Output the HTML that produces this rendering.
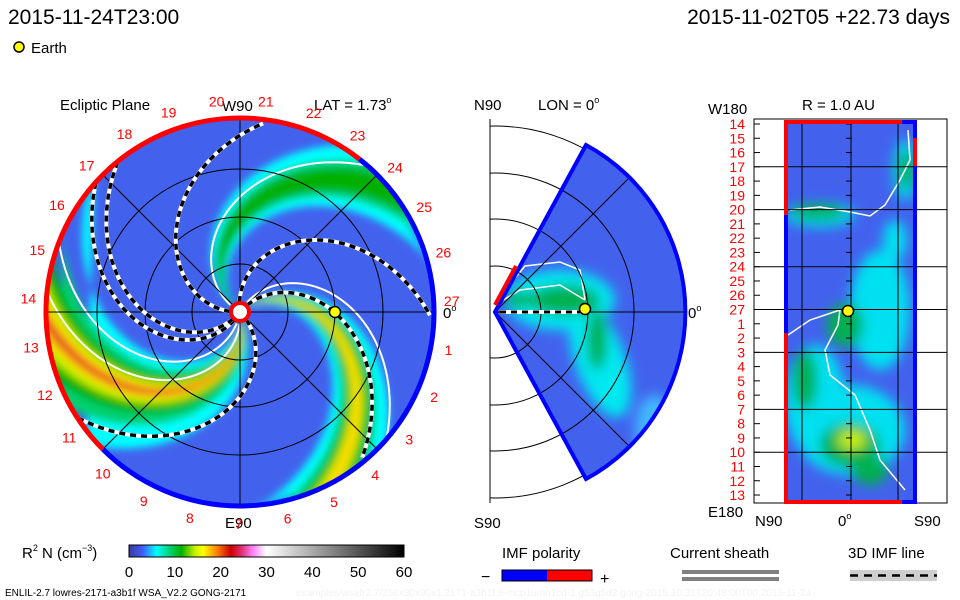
<!DOCTYPE html>
<html><head><meta charset="utf-8"><style>
html,body{margin:0;padding:0;background:#fff;width:960px;height:600px;overflow:hidden}
svg{display:block;font-family:"Liberation Sans",sans-serif}
</style></head><body>
<svg id="s" width="960" height="600" viewBox="0 0 960 600">
<defs>
<filter id="bl" x="-20%" y="-20%" width="140%" height="140%"><feGaussianBlur stdDeviation="4"/></filter>
<filter id="bl2" x="-30%" y="-30%" width="160%" height="160%"><feGaussianBlur stdDeviation="6"/></filter>
<clipPath id="cc"><circle cx="240" cy="312" r="193"/></clipPath>
<clipPath id="wc"><path d="M495,312 L586,145 A190,190 0 0 1 586,479 Z"/></clipPath>
<clipPath id="rc"><rect x="786" y="122" width="129" height="380"/></clipPath>
<clipPath id="mf"><rect x="490" y="119" width="200" height="384"/></clipPath>
<linearGradient id="cb" x1="0" x2="1" y1="0" y2="0">
<stop offset="0" stop-color="#3a3a98"/><stop offset="0.05" stop-color="#3f5cff"/><stop offset="0.1" stop-color="#00ffff"/>
<stop offset="0.15" stop-color="#00d070"/><stop offset="0.19" stop-color="#00b000"/><stop offset="0.24" stop-color="#c8f000"/>
<stop offset="0.27" stop-color="#ffff00"/><stop offset="0.32" stop-color="#ff8000"/><stop offset="0.37" stop-color="#cc0000"/>
<stop offset="0.41" stop-color="#e03070"/><stop offset="0.45" stop-color="#ff80ff"/><stop offset="0.5" stop-color="#ffffff"/>
<stop offset="1" stop-color="#000000"/></linearGradient>
</defs>

<text x="8" y="24" font-size="21">2015-11-24T23:00</text>
<text x="950" y="24" font-size="21" text-anchor="end">2015-11-02T05 +22.73 days</text>
<circle cx="19" cy="47" r="5" fill="#ffff00" stroke="#000" stroke-width="1.5"/>
<text x="31" y="53" font-size="15">Earth</text>

<!-- left panel -->
<g>
<text x="60" y="110" font-size="15">Ecliptic Plane</text>
<text x="222" y="111" font-size="15">W90</text>
<text x="314" y="110" font-size="15">LAT = 1.73<tspan font-size="9" dy="-7">o</tspan></text>
<text x="225" y="528" font-size="15">E90</text>
<text x="443" y="318" font-size="15">0<tspan font-size="9" dy="-7">o</tspan></text>
<g clip-path="url(#cc)" id="lp"><circle cx="240" cy="312" r="193" fill="#4262ee"/></g>
<g id="lover"></g>
</g>

<!-- middle panel -->
<g>
<text x="474" y="110" font-size="15">N90</text>
<text x="538" y="110" font-size="15">LON = 0<tspan font-size="9" dy="-7">o</tspan></text>
<text x="474" y="528" font-size="15">S90</text>
<text x="688" y="318" font-size="15">0<tspan font-size="9" dy="-7">o</tspan></text>
<line x1="490" y1="119" x2="490" y2="503" stroke="#000"/>
<g id="mp"></g>
</g>

<!-- right panel -->
<g>
<text x="802" y="110" font-size="15">R = 1.0 AU</text>
<text x="708" y="114" font-size="15">W180</text>
<text x="708" y="517" font-size="15">E180</text>
<text x="755" y="526" font-size="15">N90</text>
<text x="838" y="526" font-size="15">0<tspan font-size="9" dy="-7">o</tspan></text>
<text x="914" y="526" font-size="15">S90</text>
<g id="rp"></g>
</g>

<!-- colorbar -->
<g>
<text x="22" y="558" font-size="15">R<tspan font-size="9" dy="-7">2</tspan><tspan dy="7"> N (cm</tspan><tspan font-size="9" dy="-7">−3</tspan><tspan dy="7">)</tspan></text>
<rect x="129" y="545" width="275" height="12" fill="url(#cb)" stroke="#000"/>
<g id="cbt"></g>
</g>
<text x="5" y="596" font-size="10">ENLIL-2.7 lowres-2171-a3b1f WSA_V2.2 GONG-2171</text>
<text x="296" y="596" font-size="10" fill="#f2f2f2">examples/wsafr2.7/256x30x90x1.2171-a3b1f.8-mcp1umn1cd-1.g53q5d2.gong-2015:10:31T20:48:00T00    2015-11-24</text>

<g>
<text x="502" y="558" font-size="15">IMF polarity</text>
<text x="481" y="582" font-size="16">−</text>
<rect x="502" y="570" width="45" height="11" fill="#0000ff"/>
<rect x="547" y="570" width="45" height="11" fill="#ff0000"/>
<rect x="502" y="570" width="90" height="11" fill="none" stroke="#000"/>
<text x="600" y="584" font-size="16">+</text>
</g>
<g>
<text x="670" y="558" font-size="15">Current sheath</text>
<rect x="682" y="570" width="97" height="4" fill="#808080"/>
<rect x="682" y="577" width="97" height="4" fill="#808080"/>
</g>
<g>
<text x="848" y="558" font-size="15">3D IMF line</text>
<rect x="850" y="570" width="87" height="11" fill="#cfcfcf"/>
<line x1="850" y1="575.5" x2="937" y2="575.5" stroke="#000" stroke-width="2.5" stroke-dasharray="8,6"/>
</g>
</svg>
<script>
const NS="http://www.w3.org/2000/svg";
// data arrays
const colorbarTicks=[0,10,20,30,40,50,60];
const carringtonLabels=[27,1,2,3,4,5,6,7,8,9,10,11,12,13,14,15,16,17,18,19,20,21,22,23,24,25,26];
const shellRowLabels=[14,15,16,17,18,19,20,21,22,23,24,25,26,27,1,2,3,4,5,6,7,8,9,10,11,12,13];
const shellGridRows=[17,20,24,27,3,7,10];
const armBaseAngles=[76,-39,-139];           // density arm start angles (deg)
const armPeakDensity=[24,19,12];
const sheathBaseAngles=[-49,-182,-98,121,130,46];
const sheathMaxR=[190,192,190,193,195,193];
const whiteLineBase=[-60,-150,85,100];

function mk(tag,attrs,parent){const e=document.createElementNS(NS,tag);for(const k in attrs)e.setAttribute(k,attrs[k]);parent.appendChild(e);return e;}
const CX=240,CY=312,R=193,K=110;
const rad=d=>d*Math.PI/180;
function pt(r,th){return [CX+r*Math.cos(rad(th)),CY+r*Math.sin(rad(th))];}
function armTh(t0,r){return t0+r/K*180/Math.PI;}
function densColor(v){
  const stops=[[0,[58,58,152]],[3,[66,98,238]],[6,[0,255,255]],[9,[0,208,112]],[11,[0,176,0]],[14,[200,240,0]],[16,[255,255,0]],[19,[255,128,0]],[22,[204,0,0]],[24,[224,48,112]]];
  for(let i=1;i<stops.length;i++){if(v<=stops[i][0]){const a=stops[i-1],b=stops[i],f=(v-a[0])/(b[0]-a[0]);return 'rgb('+a[1].map((c,j)=>Math.round(c+(b[1][j]-c)*f)).join(',')+')';}}
  return 'rgb(224,48,112)';
}
// colorbar ticks
const cbt=document.getElementById('cbt');
colorbarTicks.forEach(v=>{const x=129+v/60*275;
  const t=mk('text',{x:x,y:577,'font-size':15,'text-anchor':'middle'},cbt);t.textContent=v;
  
  });

// left panel arms
const lp=document.getElementById('lp');
armBaseAngles.forEach((t0,i)=>{
  const peak=armPeakDensity[i];
  const layers=[[6,1.0],[9,0.75],[11,0.55],[14,0.38],[17,0.25],[20,0.14],[23,0.06]];
  const g=mk('g',{filter:'url(#bl)'},lp);
  
  
  layers.forEach(([v,fw])=>{
    if(v>peak)return;
    const outer=[],inner=[];
    for(let r=8;r<=205;r+=5){
      const grow=(i===0?42:(i===1?22:22))*(0.3+0.7*r/200)*fw*(1-(v-6)/(peak+4));
      const w=Math.max(grow,0.5);const th=armTh(t0,r);
      outer.push(pt(r,th-w));inner.unshift(pt(r,th+w));}
    mk('polygon',{points:outer.concat(inner).map(p=>p.join(',')).join(' '),fill:densColor(v)},g);
  });
});
// white lines
whiteLineBase.forEach((t0,i)=>{
  const p=[];for(let r=12;r<=200;r+=4)p.push(pt(r,armTh(t0,r)));
  const l=mk('polyline',{points:p.map(q=>q.join(',')).join(' '),fill:'none',stroke:'#fff','stroke-width':2},lp);
  
  
});
// grid
const lo=document.getElementById('lover');
[48,95,143].forEach(r=>{const c=mk('circle',{cx:CX,cy:CY,r:r,fill:'none',stroke:'#000','stroke-width':1},lo);
  });
[0,45,90,135].forEach(a=>{const p1=pt(R,a),p2=pt(R,a+180);
  const l=mk('line',{x1:p1[0],y1:p1[1],x2:p2[0],y2:p2[1],stroke:'#000','stroke-width':1},lo);
  });
// sheath dashed
sheathBaseAngles.forEach((t0,i)=>{
  const p=[];for(let r=10;r<=sheathMaxR[i];r+=3)p.push(pt(r,armTh(t0,r)));
  const s=p.map(q=>q.join(',')).join(' ');
  const g=mk('g',{},lo);
  
  
  mk('polyline',{points:s,fill:'none',stroke:'#fff','stroke-width':4},g);
  mk('polyline',{points:s,fill:'none',stroke:'#000','stroke-width':3.5,'stroke-dasharray':'6,5'},g);
});
// rim
function arc(r,a1,a2){const p1=pt(r,a1),p2=pt(r,a2);const large=((a2-a1+360)%360)>180?1:0;return `M${p1[0]},${p1[1]} A${r},${r} 0 ${large} 1 ${p2[0]},${p2[1]}`;}
let rr=mk('path',{d:arc(194,-52,135),fill:'none',stroke:'#0000ff','stroke-width':5},lo);

rr=mk('path',{d:arc(194,135,308),fill:'none',stroke:'#ff0000','stroke-width':5},lo);

const sun=mk('circle',{cx:CX,cy:CY,r:9,fill:'#fff',stroke:'#ff0000','stroke-width':4},lo);

const e1=mk('circle',{cx:335,cy:312,r:5.5,fill:'#ffff00',stroke:'#000','stroke-width':1.5},lo);

// labels
carringtonLabels.forEach((n,i)=>{const p=pt(212,-3+i*360/27);
  const t=mk('text',{x:p[0],y:p[1]+5,'font-size':14,fill:'#ff0000','text-anchor':'middle'},lo);t.textContent=n;
  
  });

// middle panel
const mp=document.getElementById('mp');
const MX=495,MY=312;
const mg=mk('g',{'clip-path':'url(#mf)'},mp);
[46,93,139,186].forEach(r=>{const c=mk('circle',{cx:MX,cy:MY,r:r,fill:'none',stroke:'#000','stroke-width':1},mg);
  });
const wg=mk('g',{'clip-path':'url(#wc)'},mp);
mk('rect',{x:490,y:140,width:200,height:345,fill:'#4262ee'},wg);
const wb=mk('g',{filter:'url(#bl2)'},wg);

mk('ellipse',{cx:560,cy:300,rx:55,ry:30,fill:'#00e8f0'},wb);
mk('ellipse',{cx:600,cy:360,rx:25,ry:60,fill:'#00e8f0',transform:'rotate(-20 600 360)'},wb);
mk('ellipse',{cx:655,cy:430,rx:20,ry:35,fill:'#40b8ff'},wb);
mk('ellipse',{cx:565,cy:300,rx:35,ry:15,fill:'#00b050'},wb);
mk('ellipse',{cx:597,cy:340,rx:10,ry:30,fill:'#00b050'},wb);
mk('ellipse',{cx:520,cy:300,rx:15,ry:8,fill:'#00b050'},wb);
mk('polyline',{points:'495,305 520,290 560,285 585,300',fill:'none',stroke:'#fff','stroke-width':1.5},wg);
mk('polyline',{points:'497,300 525,266 560,262 580,270 585,300',fill:'none',stroke:'#fff','stroke-width':1.5},wg);
[46,93,139].forEach(r=>mk('circle',{cx:MX,cy:MY,r:r,fill:'none',stroke:'#000','stroke-width':1},wg));
[-45,45].forEach(a=>mk('line',{x1:MX,y1:MY,x2:MX+190*Math.cos(rad(a)),y2:MY+190*Math.sin(rad(a)),stroke:'#000'},wg));
mk('line',{x1:MX,y1:MY,x2:685,y2:MY,stroke:'#000'},wg);
const wo=mk('path',{d:'M495,312 L586,145 A190,190 0 0 1 586,479 Z',fill:'none',stroke:'#0000ff','stroke-width':4},mp);

mk('line',{x1:495,y1:305,x2:516,y2:266,stroke:'#ff0000','stroke-width':4},mp);
mk('line',{x1:500,y1:312,x2:585,y2:312,stroke:'#fff','stroke-width':4},mp);
mk('line',{x1:500,y1:312,x2:585,y2:312,stroke:'#000','stroke-width':3,'stroke-dasharray':'6,5'},mp);
const e2=mk('circle',{cx:585,cy:309,r:5.5,fill:'#ffff00',stroke:'#000','stroke-width':1.5},mp);


// right panel
const rp=document.getElementById('rp');
const fr=mk('rect',{x:754,y:119,width:193,height:384,fill:'none',stroke:'#000'},rp);

const rg=mk('g',{'clip-path':'url(#rc)'},rp);
mk('rect',{x:786,y:122,width:129,height:380,fill:'#4262ee'},rg);
const rb=mk('g',{filter:'url(#bl2)'},rg);

[[880,310,30,60,'#00e0f0'],[815,400,30,55,'#00e0f0'],[850,430,55,45,'#00e0f0'],[820,215,35,12,'#00e0f0'],[905,170,12,30,'#00e0f0'],
 [845,325,18,22,'#00b050'],[818,212,28,8,'#00b050'],[805,380,12,30,'#00b050'],[850,445,30,22,'#00b050'],[870,470,18,15,'#00b050'],
 [852,440,14,10,'#c8f000'],[906,170,8,20,'#00b050'],[895,240,12,20,'#00e0f0']].forEach(b=>mk('ellipse',{cx:b[0],cy:b[1],rx:b[2],ry:b[3],fill:b[4]},rb));
mk('polyline',{points:'790,210 820,207 850,212 870,216 885,205 900,180 910,160 908,130',fill:'none',stroke:'#fff','stroke-width':1.5},rg);
mk('polyline',{points:'788,335 810,320 840,310 838,325 825,350 830,375 855,395 870,430 880,460 905,490',fill:'none',stroke:'#fff','stroke-width':1.5},rg);
[802,851,898].forEach(x=>mk('line',{x1:x,y1:122,x2:x,y2:502,stroke:'#000'},rg));
shellGridRows.forEach(n=>{const i=shellRowLabels.indexOf(n);const y=124+i*14.27;
  const l=mk('line',{x1:754,y1:y,x2:947,y2:y,stroke:'#000'},rp);
  });
shellRowLabels.forEach((n,i)=>{const y=124+i*14.27;
  mk('line',{x1:754,y1:y,x2:760,y2:y,stroke:'#000'},rp);
  mk('line',{x1:846,y1:y,x2:852,y2:y,stroke:'#000'},rp);
  const t=mk('text',{x:745,y:y+5,'font-size':14,fill:'#ff0000','text-anchor':'end'},rp);t.textContent=n;
  
  });
mk('path',{d:'M786,215 L786,122 L902,122',fill:'none',stroke:'#ff0000','stroke-width':4},rp);
mk('path',{d:'M786,215 L786,333',fill:'none',stroke:'#0000ff','stroke-width':4},rp);
mk('path',{d:'M786,333 L786,502 L902,502',fill:'none',stroke:'#ff0000','stroke-width':4},rp);
mk('path',{d:'M902,122 L915,122 L915,502 L902,502',fill:'none',stroke:'#0000ff','stroke-width':4},rp);
mk('line',{x1:915,y1:138,x2:915,y2:166,stroke:'#ff0000','stroke-width':4},rp);
const e3=mk('circle',{cx:848,cy:311,r:5.5,fill:'#ffff00',stroke:'#000','stroke-width':1.5},rp);

</script>
</body></html>
